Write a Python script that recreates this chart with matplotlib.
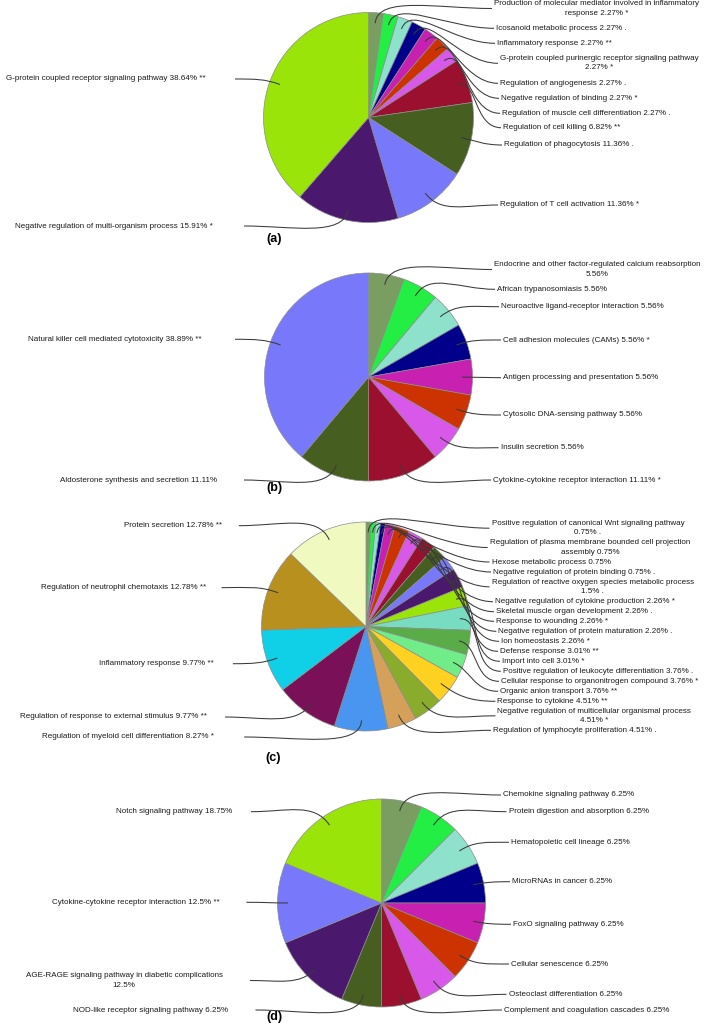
import matplotlib
matplotlib.use('Agg')
import matplotlib.pyplot as plt
import numpy as np
from matplotlib.path import Path
from matplotlib.patches import PathPatch

W, H = 709, 1031
FS = 5.8
plt.rcParams['font.family'] = ['Liberation Sans', 'DejaVu Sans']

# ---------------------------------------------------------------------------
# Data
# ---------------------------------------------------------------------------

labels_a = [
    'Production of molecular mediator involved in inflammatory\nresponse 2.27% *',
    'Icosanoid metabolic process 2.27% .',
    'Inflammatory response 2.27% **',
    'G-protein coupled purinergic receptor signaling pathway\n2.27% *',
    'Regulation of angiogenesis 2.27% .',
    'Negative regulation of binding 2.27% *',
    'Regulation of muscle cell differentiation 2.27% .',
    'Regulation of cell killing 6.82% **',
    'Regulation of phagocytosis 11.36% .',
    'Regulation of T cell activation 11.36% *',
    'Negative regulation of multi-organism process 15.91% *',
    'G-protein coupled receptor signaling pathway 38.64% **',
]
values_a = [2.27, 2.27, 2.27, 2.27, 2.27, 2.27, 2.27, 6.82, 11.36, 11.36, 15.91, 38.64]

labels_b = [
    'Endocrine and other factor-regulated calcium reabsorption\n5.56%',
    'African trypanosomiasis 5.56%',
    'Neuroactive ligand-receptor interaction 5.56%',
    'Cell adhesion molecules (CAMs) 5.56% *',
    'Antigen processing and presentation 5.56%',
    'Cytosolic DNA-sensing pathway 5.56%',
    'Insulin secretion 5.56%',
    'Cytokine-cytokine receptor interaction 11.11% *',
    'Aldosterone synthesis and secretion 11.11%',
    'Natural killer cell mediated cytotoxicity 38.89% **',
]
values_b = [5.56, 5.56, 5.56, 5.56, 5.56, 5.56, 5.56, 11.11, 11.11, 38.89]

labels_c = [
    'Positive regulation of canonical Wnt signaling pathway\n0.75% .',
    'Regulation of plasma membrane bounded cell projection\nassembly 0.75%',
    'Hexose metabolic process 0.75%',
    'Negative regulation of protein binding 0.75% .',
    'Regulation of reactive oxygen species metabolic process\n1.5% .',
    'Negative regulation of cytokine production 2.26% *',
    'Skeletal muscle organ development 2.26% .',
    'Response to wounding 2.26% *',
    'Negative regulation of protein maturation 2.26% .',
    'Ion homeostasis 2.26% *',
    'Defense response 3.01% **',
    'Import into cell 3.01% *',
    'Positive regulation of leukocyte differentiation 3.76% .',
    'Cellular response to organonitrogen compound 3.76% *',
    'Organic anion transport 3.76% **',
    'Response to cytokine 4.51% **',
    'Negative regulation of multicellular organismal process\n4.51% *',
    'Regulation of lymphocyte proliferation 4.51% .',
    'Regulation of myeloid cell differentiation 8.27% *',
    'Regulation of response to external stimulus 9.77% **',
    'Inflammatory response 9.77% **',
    'Regulation of neutrophil chemotaxis 12.78% **',
    'Protein secretion 12.78% **',
]
values_c = [0.75, 0.75, 0.75, 0.75, 1.5, 2.26, 2.26, 2.26, 2.26, 2.26, 3.01, 3.01,
            3.76, 3.76, 3.76, 4.51, 4.51, 4.51, 8.27, 9.77, 9.77, 12.78, 12.78]

labels_d = [
    'Chemokine signaling pathway 6.25%',
    'Protein digestion and absorption 6.25%',
    'Hematopoietic cell lineage 6.25%',
    'MicroRNAs in cancer 6.25%',
    'FoxO signaling pathway 6.25%',
    'Cellular senescence 6.25%',
    'Osteoclast differentiation 6.25%',
    'Complement and coagulation cascades 6.25%',
    'NOD-like receptor signaling pathway 6.25%',
    'AGE-RAGE signaling pathway in diabetic complications\n12.5%',
    'Cytokine-cytokine receptor interaction 12.5% **',
    'Notch signaling pathway 18.75%',
]
values_d = [6.25, 6.25, 6.25, 6.25, 6.25, 6.25, 6.25, 6.25, 6.25, 12.5, 12.5, 18.75]

# ---------------------------------------------------------------------------
# Style / layout
# ---------------------------------------------------------------------------

PALETTE = ['#7a9e62', '#22ee44', '#8ee2cc', '#00008a', '#c820b0', '#cc3300',
           '#d858ea', '#9a102e', '#465e20', '#7878fa', '#4a186c', '#9ae40a',
           '#78dcc0', '#5aac48', '#70ec88', '#ffd222', '#8aac2c', '#d4a05a',
           '#4896f0', '#7a1058', '#10d0e8', '#b8901e', '#f0fac0']

colors_a = PALETTE[:12]
colors_b = PALETTE[:10]
colors_c = PALETTE[:23]
colors_d = PALETTE[:9] + [PALETTE[10], PALETTE[9], PALETTE[11]]

# (side, text x, text y, line end x) in pixel coords, y down
layout_a = [('r', 494, 8.5, 492), ('r', 496, 28.3, 494), ('r', 497, 43.3, 495),
            ('r', 500, 63.3, 498), ('r', 500, 83.3, 498), ('r', 501, 98.3, 499),
            ('r', 502, 113.3, 500), ('r', 503, 127.7, 501), ('r', 504, 145, 502),
            ('r', 500, 205, 498), ('l', 213, 226, 244), ('l', 206, 79, 235)]
layout_b = [('r', 494, 269.5, 492), ('r', 497, 289.3, 495), ('r', 501, 306.7, 499),
            ('r', 503, 340, 501), ('r', 503, 377.7, 501), ('r', 503, 415, 501),
            ('r', 500.6, 447.7, 498.6), ('r', 493, 480, 491),
            ('l', 217, 480, 244), ('l', 201, 339.3, 235)]
layout_c = [('r', 491.5, 528.2, 489.5), ('r', 489.7, 547.5, 487.7), ('r', 491.5, 562, 489.5),
            ('r', 492.9, 572, 491), ('r', 491.5, 586.8, 489.5), ('r', 495.1, 601.7, 493),
            ('r', 496, 611.7, 494), ('r', 496, 621.3, 494), ('r', 498.3, 631.3, 496.3),
            ('r', 501, 641.3, 499), ('r', 500, 651.3, 498), ('r', 502, 661.3, 500),
            ('r', 502.8, 671.3, 500.8), ('r', 501, 681.3, 499), ('r', 500, 691.3, 498),
            ('r', 497.4, 701.3, 495.4), ('r', 497.4, 715.8, 495.4), ('r', 492.9, 730.3, 491),
            ('l', 213.4, 737, 244.2), ('l', 207, 717, 225), ('l', 213.9, 663.7, 232.9),
            ('l', 206.2, 587.7, 221.6), ('l', 222.5, 525.7, 238.8)]
layout_d = [('r', 503.3, 795, 501), ('r', 508.7, 811.7, 506.5), ('r', 511, 842.3, 509),
            ('r', 512.3, 881.7, 510), ('r', 513.2, 924.3, 511), ('r', 511, 964, 509),
            ('r', 508.7, 994.3, 506.5), ('r', 504.2, 1010, 502),
            ('l', 228.4, 1010, 255.5), ('l', 222.5, 980.5, 250),
            ('l', 219.3, 902.3, 246.4), ('l', 232, 811.7, 251)]


fig = plt.figure(figsize=(W / 100, H / 100), dpi=100)
ax = fig.add_axes([0, 0, 1, 1])


def draw_panel(values, labels, colors, center, radius, layout, tag, tag_pos):
    cx, cy = center[0], H - center[1]
    wedges, _ = ax.pie(values, colors=colors, center=(cx, cy), radius=radius,
                       startangle=90, counterclock=False,
                       wedgeprops=dict(edgecolor='#8c8c8c', linewidth=0.5))
    for w, lab, (side, tx, ty, lx) in zip(wedges, labels, layout):
        mid = np.deg2rad((w.theta1 + w.theta2) / 2)
        u = np.array([np.cos(mid), np.sin(mid)])
        p0 = np.array([cx, cy]) + 0.9 * radius * u
        p3 = np.array([lx, H - ty])
        d = np.hypot(*(p3 - p0))
        p1 = p0 + u * min(0.35 * d, 28)
        sgn = 1 if side == 'r' else -1
        p2 = p3 - np.array([sgn * 0.45 * d, 0])
        path = Path([p0, p1, p2, p3],
                    [Path.MOVETO, Path.CURVE4, Path.CURVE4, Path.CURVE4])
        ax.add_patch(PathPatch(path, fill=False, edgecolor='#3a3a3a', lw=0.75))
        ax.text(tx, H - ty, lab, ha='left' if side == 'r' else 'right',
                va='center', multialignment='center', linespacing=1.45,
                fontsize=FS, color='#1a1a1a')
    ax.text(tag_pos[0], H - tag_pos[1], tag, ha='center', va='center',
            fontsize=9, fontweight='bold')


draw_panel(values_a, labels_a, colors_a, (368.5, 117.5), 105, layout_a, '(a)', (274.5, 239))
draw_panel(values_b, labels_b, colors_b, (368.5, 377), 104, layout_b, '(b)', (274, 488))
draw_panel(values_c, labels_c, colors_c, (366, 626.5), 104.5, layout_c, '(c)', (273, 758))
draw_panel(values_d, labels_d, colors_d, (381.5, 903), 104, layout_d, '(d)', (274, 1017))

ax.set_xlim(0, W)
ax.set_ylim(0, H)
ax.set_aspect('auto')
ax.axis('off')

fig.savefig('out.png', dpi=100)
